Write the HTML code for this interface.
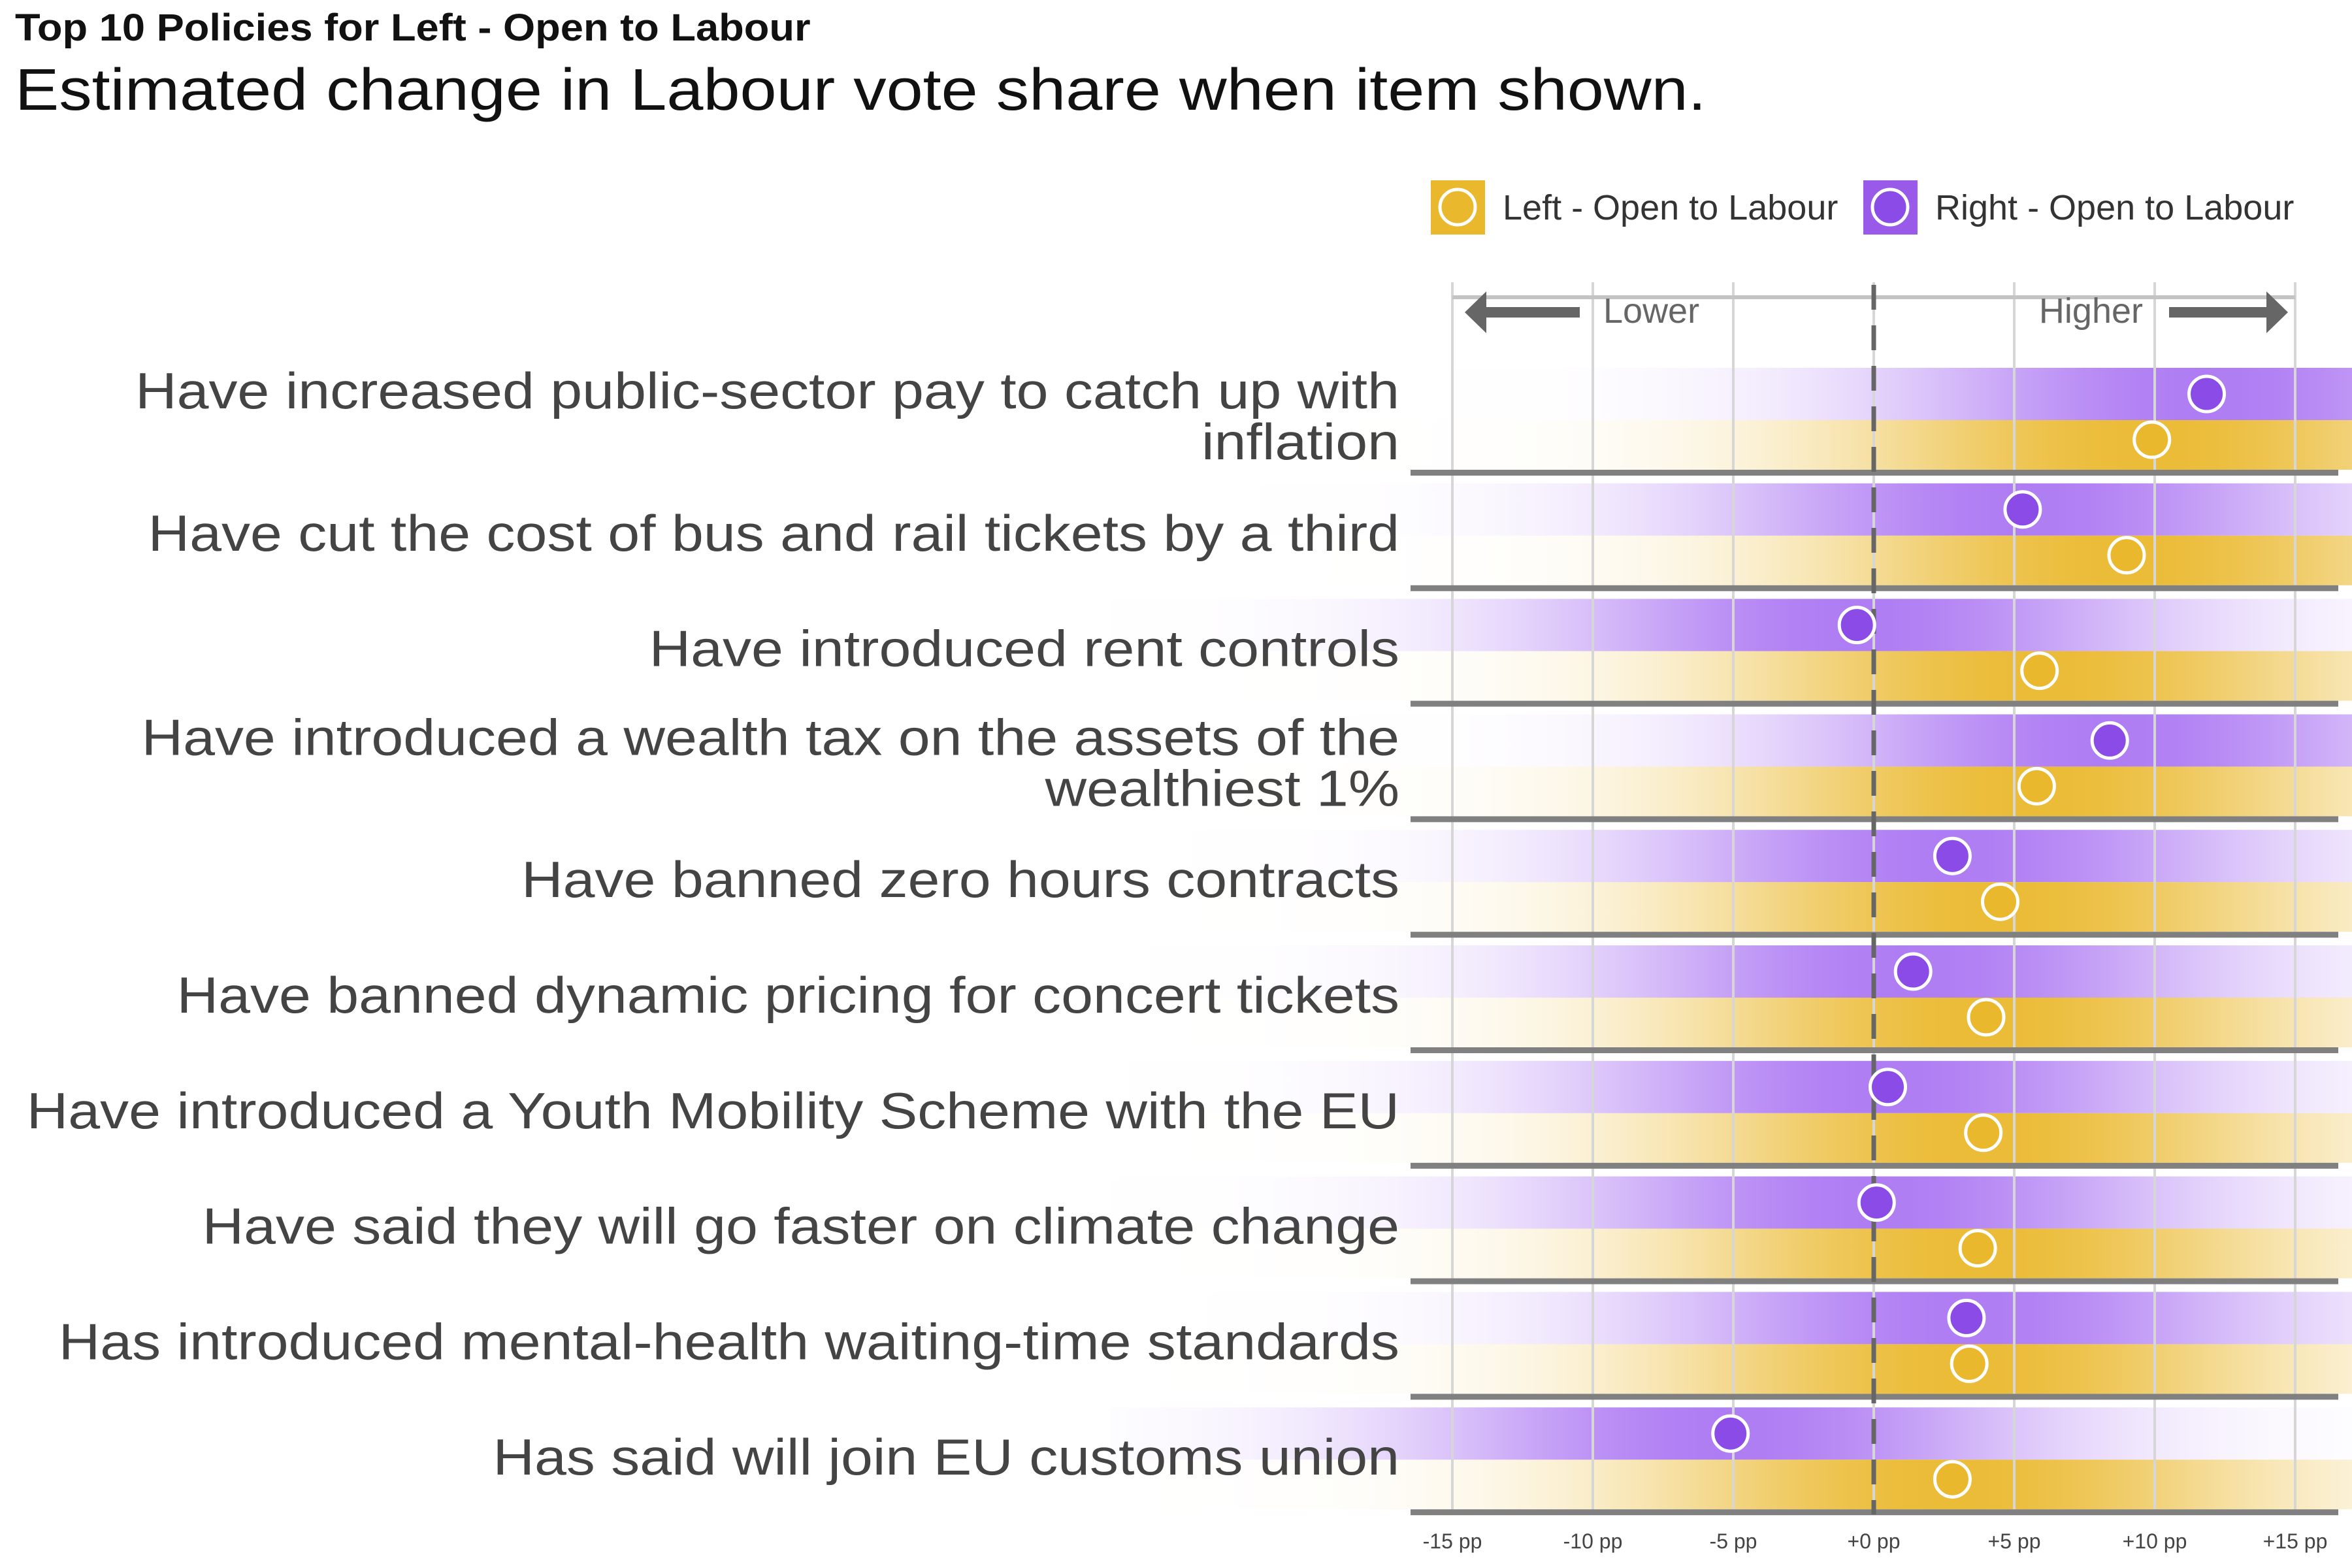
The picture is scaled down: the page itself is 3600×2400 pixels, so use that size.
<!DOCTYPE html>
<html><head><meta charset="utf-8"><style>
html,body{margin:0;padding:0;background:#fff;}
svg{display:block;font-family:"Liberation Sans",sans-serif;}
</style></head><body>
<svg id="chart" width="3600" height="2400" viewBox="0 0 3600 2400" xmlns="http://www.w3.org/2000/svg">
<text class="wide" data-w="1.09" x="23" y="62" font-size="58" font-weight="bold" fill="#111">Top 10 Policies for Left - Open to Labour</text>
<text class="wide" data-w="1.12" x="23" y="168" font-size="90" fill="#111">Estimated change in Labour vote share when item shown.</text>
<g>
<rect x="2190" y="276" width="83" height="83" fill="#eab82c"/>
<circle cx="2231" cy="317" r="27" fill="#eab82c" stroke="#fff" stroke-width="5"/>
<text x="2300" y="336" font-size="54" fill="#333">Left - Open to Labour</text>
<rect x="2852" y="276" width="83" height="83" fill="#9a5ae9"/>
<circle cx="2893" cy="317" r="27" fill="#8a4be6" stroke="#fff" stroke-width="5"/>
<text x="2962" y="336" font-size="54" fill="#333">Right - Open to Labour</text>
</g>
<defs id="defs"></defs>
<g id="bands"></g>
<g id="grid"></g>
<g id="seps"></g>
<g id="labels"></g>
<g id="points"></g>
</svg>
<script>
const categories = [
  ["Have increased public-sector pay to catch up with","inflation"],
  ["Have cut the cost of bus and rail tickets by a third"],
  ["Have introduced rent controls"],
  ["Have introduced a wealth tax on the assets of the","wealthiest 1%"],
  ["Have banned zero hours contracts"],
  ["Have banned dynamic pricing for concert tickets"],
  ["Have introduced a Youth Mobility Scheme with the EU"],
  ["Have said they will go faster on climate change"],
  ["Has introduced mental-health waiting-time standards"],
  ["Has said will join EU customs union"]
];
const rightValues = [11.85, 5.3, -0.6, 8.4, 2.8, 1.4, 0.5, 0.1, 3.3, -5.1];
const leftValues = [9.9, 9.0, 5.9, 5.8, 4.5, 4.0, 3.9, 3.7, 3.4, 2.8];
const tickValues = [-15, -10, -5, 0, 5, 10, 15];
const tickLabels = ["-15 pp","-10 pp","-5 pp","+0 pp","+5 pp","+10 pp","+15 pp"];

const NS = "http://www.w3.org/2000/svg";
const X0 = 2868, PX = 43;
function xScale(v){ return X0 + v*PX; }
function sepY(i){ return 723 + 176.8*i; }
function mk(tag, attrs, parent){ const e=document.createElementNS(NS,tag); for(const k in attrs) e.setAttribute(k, attrs[k]); parent.appendChild(e); return e; }

const defs = document.getElementById('defs');
const bands = document.getElementById('bands');
const grid = document.getElementById('grid');
const seps = document.getElementById('seps');
const labels = document.getElementById('labels');
const points = document.getElementById('points');

function gradient(id, val, color, maxOp){
  const g = mk('linearGradient', {id:id, gradientUnits:'userSpaceOnUse', x1:xScale(val-35), x2:xScale(val+35), y1:0, y2:0}, defs);
  for(let d=-35; d<=35; d+=1.5){
    const op = maxOp*Math.exp(-0.5*Math.pow(d/8,2));
    mk('stop', {offset:((d+35)/70).toFixed(4), 'stop-color':color, 'stop-opacity':op.toFixed(3)}, g);
  }
}

tickValues.forEach((t,i)=>{
  const l = mk('line',{x1:xScale(t),x2:xScale(t),y1:432,y2:2318,stroke:'#d6d6d6','stroke-width':4},grid);
  
  
  const tx = mk('text',{x:xScale(t),y:2370,'font-size':32,'text-anchor':'middle',fill:'#444'},grid);
  tx.textContent = tickLabels[i];
  
  
});
const topLine = mk('line',{x1:xScale(-15),x2:xScale(15),y1:455,y2:455,stroke:'#c4c4c4','stroke-width':6},grid);


const la = mk('path',{d:`M2242 478 L2275 446 L2275 470 L2418 470 L2418 486 L2275 486 L2275 510 Z`,fill:'#666'},grid);


const ra = mk('path',{d:`M3502 478 L3469 446 L3469 470 L3320 470 L3320 486 L3469 486 L3469 510 Z`,fill:'#666'},grid);


const lt = mk('text',{x:2454,y:494,'font-size':54,fill:'#666'},grid); lt.textContent='Lower';


const ht = mk('text',{x:3280,y:494,'font-size':54,fill:'#666','text-anchor':'end'},grid); ht.textContent='Higher';



categories.forEach((cat,i)=>{
  const s = sepY(i);
  gradient('gp'+i, rightValues[i], '#9b5cf0', 0.8);
  gradient('gy'+i, leftValues[i], '#eab82c', 0.95);
  const bp = mk('rect',{x:1700,y:s-160,width:1900,height:80,fill:`url(#gp${i})`},bands);
  
  
  const by = mk('rect',{x:1700,y:s-80,width:1900,height:76,fill:`url(#gy${i})`},bands);
  
  
  const sp = mk('rect',{x:2159,y:s-4,width:1420,height:9,fill:'#808080'},seps);
  
  
  cat.forEach((line,k)=>{
    const y = cat.length===1 ? s-57 : (k===0 ? s-98 : s-20);
    const t = mk('text',{x:2142,y:y,'font-size':78,fill:'#444','text-anchor':'end','class':'wide','data-w':'1.127'},labels);
    
    
    t.textContent = line;
  });
  const cp = mk('circle',{cx:xScale(rightValues[i]),cy:s-120,r:27,fill:'#8a4be6',stroke:'#fff','stroke-width':5},points);
  
  
  const cy = mk('circle',{cx:xScale(leftValues[i]),cy:s-50,r:27,fill:'#eab82c',stroke:'#fff','stroke-width':5},points);
  
  
});
const zl = mk('line',{x1:X0,x2:X0,y1:436,y2:2318,stroke:'#666','stroke-width':7,'stroke-dasharray':'38 24'},seps);



document.querySelectorAll('text.wide').forEach(t=>{
  const w = t.getComputedTextLength();
  t.setAttribute('textLength', (w*parseFloat(t.getAttribute('data-w'))).toFixed(1));
  t.setAttribute('lengthAdjust','spacingAndGlyphs');
});
</script>
</body></html>
